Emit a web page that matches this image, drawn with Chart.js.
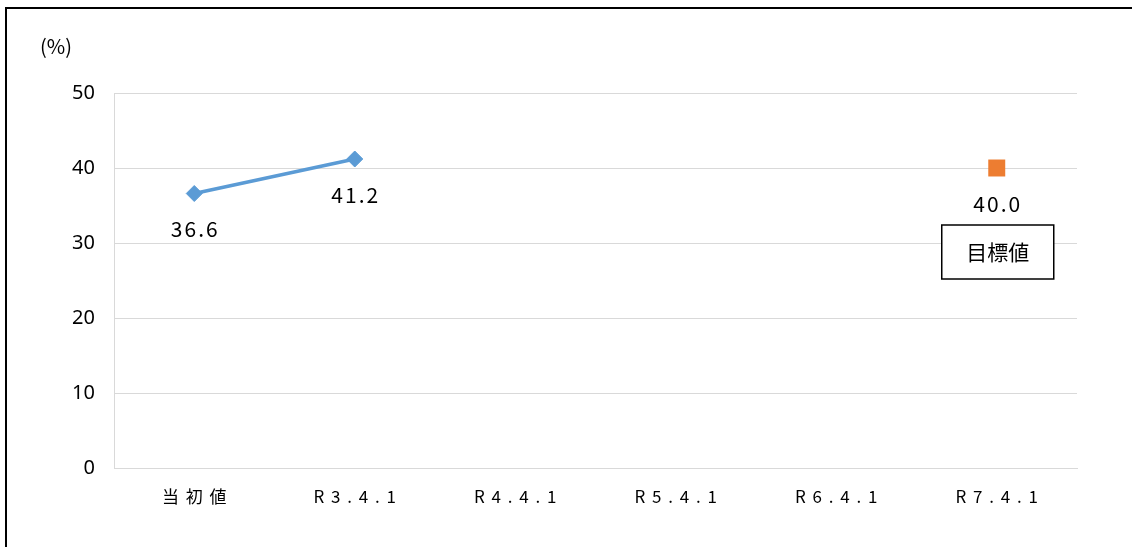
<!DOCTYPE html>
<html>
<head>
<meta charset="utf-8">
<script src="https://cdn.jsdelivr.net/npm/chart.js@4"></script>
<style>
  html, body { margin: 0; padding: 0; background: #fff; }
  #wrap { width: 1132px; height: 547px; }
</style>
</head>
<body>
<div id="wrap"><canvas id="chart" width="1132" height="547"></canvas></div>
<script>
// ---- Data ----
const categories = ['当初値', 'R3.4.1', 'R4.4.1', 'R5.4.1', 'R6.4.1', 'R7.4.1'];
const actualValues = [36.6, 41.2, null, null, null, null];
const targetValues = [null, null, null, null, null, 40.0];
const yTicks = [0, 10, 20, 30, 40, 50];
const unitLabel = '(%)';
const targetLabel = '目標値';

const JP_FONT = '"Noto Sans CJK JP", "Noto Sans", sans-serif';

// ---- Extras: frame, unit label, value labels, target box ----
const extras = {
  id: 'extras',
  afterDraw(chart) {
    const ctx = chart.ctx;
    const x = chart.scales.x, y = chart.scales.y;
    ctx.save();

    // outer frame (top + left only, rest is cut off)
    ctx.strokeStyle = '#000';
    ctx.lineWidth = 2;
    ctx.beginPath();
    ctx.moveTo(6, 547);
    ctx.lineTo(6, 8);
    ctx.lineTo(1132, 8);
    ctx.stroke();

    // unit
    ctx.fillStyle = '#000';
    ctx.font = '20px ' + JP_FONT;
    ctx.textAlign = 'center';
    ctx.textBaseline = 'middle';
    ctx.fillText(unitLabel, 56, 46);

    // value labels
    ctx.font = '21px ' + JP_FONT;
    if ('letterSpacing' in ctx) ctx.letterSpacing = '2px';
    chart.data.datasets.forEach(ds => {
      ds.data.forEach((v, i) => {
        if (v == null) return;
        const px = x.getPixelForValue(i);
        const py = y.getPixelForValue(v);
        ctx.fillText(v.toFixed(1), px + 1, py + 36);
      });
    });
    if ('letterSpacing' in ctx) ctx.letterSpacing = '0px';

    // target box
    const ti = targetValues.findIndex(v => v != null);
    const bx = x.getPixelForValue(ti) + 1;
    const by = y.getPixelForValue(targetValues[ti]) + 84;
    ctx.fillStyle = '#fff';
    ctx.fillRect(bx - 56, by - 27, 112, 54);
    ctx.strokeStyle = '#000';
    ctx.lineWidth = 1.5;
    ctx.strokeRect(bx - 56, by - 27, 112, 54);
    ctx.fillStyle = '#000';
    ctx.font = '21px ' + JP_FONT;
    ctx.fillText(targetLabel, bx, by);

    ctx.restore();
  }
};

new Chart(document.getElementById('chart'), {
  type: 'line',
  data: {
    labels: categories,
    datasets: [
      {
        label: '実績',
        data: actualValues,
        borderColor: '#5B9BD5',
        backgroundColor: '#5B9BD5',
        borderWidth: 3.5,
        pointStyle: 'rectRot',
        pointRadius: 8,
        pointBorderWidth: 1,
        pointBorderColor: '#5B9BD5',
        spanGaps: false,
      },
      {
        label: '目標値',
        data: targetValues,
        borderColor: '#ED7D31',
        backgroundColor: '#ED7D31',
        showLine: false,
        pointStyle: 'rect',
        pointRadius: 12,
        pointBorderWidth: 0,
      }
    ]
  },
  options: {
    responsive: false,
    animation: false,
    layout: { padding: { top: 93, right: 55, left: 0, bottom: 0 } },
    plugins: {
      legend: { display: false },
      tooltip: { enabled: false }
    },
    scales: {
      x: {
        offset: true,
        grid: { display: false, drawTicks: false },
        border: { display: true, color: '#D9D9D9', width: 1 },
        ticks: {
          color: '#000',
          padding: 18,
          maxRotation: 0,
          font: { family: JP_FONT, size: 17 },
          callback: (v, i) => categories[i].split('').join('\u2009\u2009')
        },
        afterFit: s => { s.height = 79; }
      },
      y: {
        min: 0,
        max: 50,
        afterBuildTicks: s => { s.ticks = yTicks.map(v => ({ value: v })); },
        grid: { color: '#D9D9D9', lineWidth: 1, drawTicks: false },
        border: { display: true, color: '#D9D9D9', width: 1 },
        ticks: {
          color: '#000',
          padding: 19,
          font: { family: '"Noto Sans", sans-serif', size: 20 }
        },
        afterFit: s => { s.width = 114; }
      }
    }
  },
  plugins: [extras]
});
</script>
</body>
</html>
